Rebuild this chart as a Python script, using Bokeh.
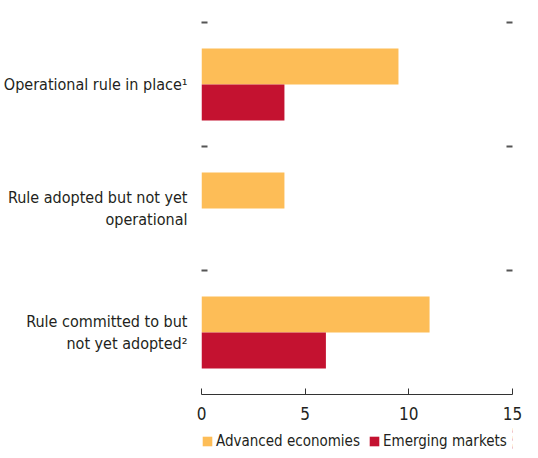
from bokeh.plotting import figure
from bokeh.layouts import column
from bokeh.models import Range1d, FixedTicker, LinearAxis, Legend, LegendItem
from bokeh.embed import file_html
from bokeh.resources import INLINE

categories = [
    "Operational rule in place\u00b9",
    "Rule adopted but not yet\noperational",
    "Rule committed to but\nnot yet adopted\u00b2",
]
advanced = [9.5, 4, 11]
emerging = [4, 0, 6]
x_ticks = [0, 5, 10, 15]
series_names = ["Advanced economies", "Emerging markets"]

FONT = "'DejaVu Sans Condensed', Roboto, sans-serif"
TEXT = "#231F20"
ORANGE = "#FDBD57"
RED = "#C41230"

n = len(categories)
centers = [n - 0.5 - i for i in range(n)]
bar_h = 0.29
adv_y = [c + bar_h / 2 for c in centers]
emg_y = [c - bar_h / 2 for c in centers]

p = figure(width=522, height=426, x_range=Range1d(0, 15), y_range=Range1d(0, n),
           output_backend="svg", toolbar_location=None,
           min_border_left=192, min_border_right=10, min_border_top=22, min_border_bottom=32)
p.outline_line_color = None
p.grid.visible = False

r1 = p.hbar(y=adv_y, left=0, right=advanced, height=bar_h, fill_color=ORANGE, line_color=None)
r2 = p.hbar(y=emg_y, left=0, right=emerging, height=bar_h, fill_color=RED, line_color=None)

# x axis
xa = p.xaxis[0]
xa.ticker = FixedTicker(ticks=x_ticks)
xa.axis_line_color = "#333333"
xa.major_tick_line_color = "#333333"
xa.major_tick_in = 6
xa.major_tick_out = 0
xa.minor_tick_line_color = None
xa.major_label_standoff = 12
xa.major_label_text_font = FONT
xa.major_label_text_font_size = "17px"
xa.major_label_text_color = TEXT

# y axis (left)
ya = p.yaxis[0]
ya.ticker = FixedTicker(ticks=centers, minor_ticks=list(range(1, n + 1)))
ya.major_label_overrides = {c: lab for c, lab in zip(centers, categories)}
ya.axis_line_color = None
ya.major_tick_line_color = None
ya.minor_tick_line_color = "#555555"
ya.minor_tick_line_width = 2
ya.minor_tick_in = 6
ya.minor_tick_out = 0
ya.major_label_standoff = 8
ya.major_label_text_font = FONT
ya.major_label_text_font_size = "16px"
ya.major_label_text_color = TEXT

# right axis with separator dashes
ra = LinearAxis(ticker=FixedTicker(ticks=[], minor_ticks=list(range(1, n + 1))),
                axis_line_color=None, major_tick_line_color=None,
                minor_tick_line_color="#555555", minor_tick_line_width=2,
                minor_tick_in=6, minor_tick_out=0, major_label_standoff=0,
                axis_label_standoff=0, major_label_text_font_size="0px")
p.add_layout(ra, "right")

# legend strip (proxy renderers lie outside its visible range)
lg = figure(width=522, height=24, x_range=Range1d(-2, -1), y_range=Range1d(0, n),
            output_backend="svg", toolbar_location=None,
            min_border_left=192, min_border_right=10, min_border_top=0, min_border_bottom=0,
            x_axis_location=None, y_axis_location=None)
lg.outline_line_color = None
lg.grid.visible = False
q1 = lg.hbar(y=adv_y, left=0, right=advanced, height=bar_h, fill_color=ORANGE, line_color=None)
q2 = lg.hbar(y=emg_y, left=0, right=emerging, height=bar_h, fill_color=RED, line_color=None)

legend = Legend(items=[LegendItem(label=series_names[0], renderers=[q1]),
                       LegendItem(label=series_names[1], renderers=[q2])],
                orientation="horizontal", location=(0, 0),
                border_line_color=None, background_fill_alpha=0,
                padding=0, margin=0, glyph_width=12, glyph_height=12,
                label_standoff=3, spacing=8, label_height=18,
                label_text_font=FONT, label_text_font_size="15px",
                label_text_color=TEXT)
lg.add_layout(legend)

layout = column(p, lg, spacing=0)
open("out.html", "w").write(file_html(layout, INLINE))
